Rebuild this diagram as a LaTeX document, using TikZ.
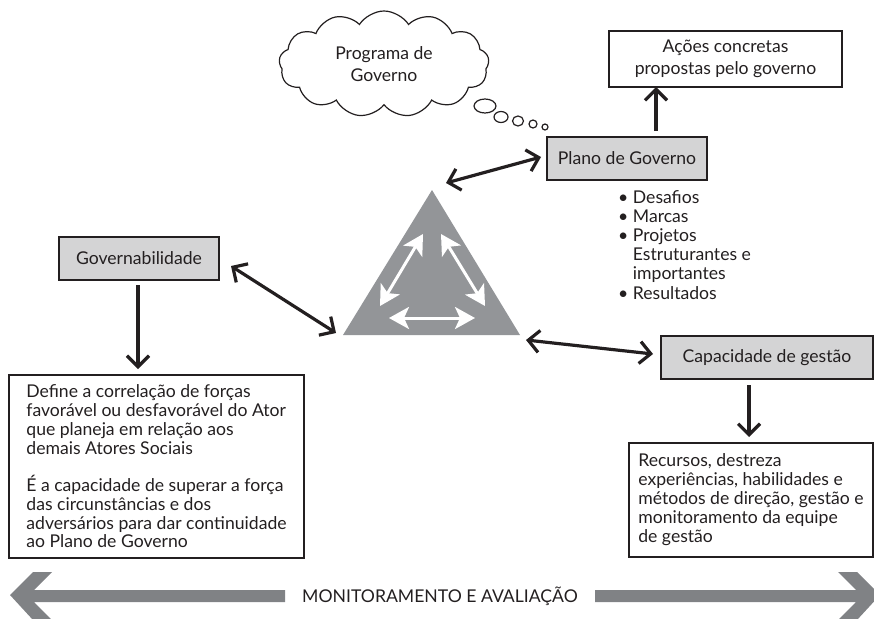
\documentclass[tikz,border=0pt]{standalone}
\usepackage{fontspec}
\setmainfont{Lato}
\usetikzlibrary{arrows.meta,shapes.symbols}
\definecolor{ink}{HTML}{231F20}
\definecolor{boxgray}{HTML}{D4D4D5}
\definecolor{trigray}{HTML}{939598}
\definecolor{bandgray}{HTML}{808285}
\tikzset{
  basefont/.style={font=\fontsize{17.6}{19}\selectfont, text=ink},
  plainbox/.style={basefont, draw=ink, line width=1.3pt, inner sep=0pt},
  graybox/.style={plainbox, fill=boxgray},
  barb/.tip={Straight Barb[length=11pt,width=22pt,line width=3.2pt]},
  blk/.style={draw=ink, line width=3.2pt, -barb},
  dbl/.style={draw=ink, line width=3.2pt, barb-barb},
  wht/.style={draw=white, line width=3pt, {Stealth[length=20pt,width=22pt,inset=5pt]}-{Stealth[length=20pt,width=22pt,inset=5pt]}},
}
\begin{document}
\begin{tikzpicture}[x=1pt,y=-1pt]
\useasboundingbox (0,0) rectangle (874,618);

% cloud and thought bubbles
\node[basefont, cloud, cloud puffs=13, cloud puff arc=115, aspect=2.0, draw=ink, line width=1.2pt,
      minimum width=210pt, minimum height=106pt, align=center, font=\fontsize{17.6}{22}\selectfont]
      (cloud) at (384,64) {Programa de\\Governo};
\draw[ink, line width=1.2pt] (485,106) ellipse [x radius=11pt, y radius=7pt];
\draw[ink, line width=1.2pt] (501,117) ellipse [x radius=7pt, y radius=5.5pt];
\draw[ink, line width=1.2pt] (518,121) ellipse [x radius=5.5pt, y radius=5pt];
\draw[ink, line width=1.2pt] (533,124) ellipse [x radius=4pt, y radius=4pt];
\draw[ink, line width=1.2pt] (545,127) ellipse [x radius=3pt, y radius=3pt];

% boxes
\node[plainbox, minimum width=233pt, minimum height=56pt, align=center, font=\fontsize{17.6}{22}\selectfont]
      (acoes) at (725.5,59) {Ações concretas\\propostas pelo governo};
\node[graybox, minimum width=160pt, minimum height=43pt] (plano) at (627,158.5) {Plano de Governo};
\node[graybox, minimum width=160pt, minimum height=43pt] (gov) at (139,258.5) {Governabilidade};
\node[graybox, minimum width=212pt, minimum height=43pt] (cap) at (767,357.5) {Capacidade de gestão};
\node[plainbox, minimum width=295pt, minimum height=183pt, align=left,
      font=\fontsize{17.6}{18.7}\selectfont]
      (define) at (156.5,466.5) {Define a correlação de forças\\favorável ou desfavorável do Ator\\que planeja em relação aos\\demais Atores Sociais\\[19pt]É a capacidade de superar a força\\das circunstâncias e dos\\adversários para dar continuidade\\ao Plano de Governo};
\node[plainbox, minimum width=244pt, minimum height=114pt, align=left]
      (recursos) at (751,500) {Recursos, destreza\\experiências, habilidades e\\métodos de direção, gestão e\\monitoramento da equipe\\de gestão};

% bullet list
\node[basefont, anchor=north west, align=left, inner sep=0pt, font=\fontsize{17.6}{19.2}\selectfont]
      (lista) at (618,190) {\textbullet\ Desafios\\\textbullet\ Marcas\\\textbullet\ Projetos\\\hphantom{\textbullet\ }Estruturantes e\\\hphantom{\textbullet\ }importantes\\\textbullet\ Resultados};

% triangle with inner arrows
\fill[trigray] (432,190) -- (520,335) -- (343,335) -- cycle;
\coordinate (wl1) at (423,234); \coordinate (wl2) at (380,306);
\coordinate (wr1) at (441,234); \coordinate (wr2) at (485,306);
\coordinate (wb1) at (389,318); \coordinate (wb2) at (475,318);
\draw[wht] (wl1) -- (wl2);
\draw[wht] (wr1) -- (wr2);
\draw[wht] (wb1) -- (wb2);

% connectors
\coordinate (tp) at (446,183);
\coordinate (pl) at (541,157);
\draw[dbl] (tp) -- (pl);
\coordinate (g1) at (231,266);
\coordinate (g2) at (336,333);
\draw[dbl] (g1) -- (g2);
\coordinate (c1) at (526,340);
\coordinate (c2) at (653,354);
\draw[dbl] (c1) -- (c2);
\coordinate (u1) at (656,131);
\coordinate (u2) at (656,87);
\draw[blk] (u1) -- (u2);
\coordinate (d1) at (138,285);
\coordinate (d2) at (138,369);
\draw[blk] (d1) -- (d2);
\coordinate (e1) at (749,385);
\coordinate (e2) at (749,437);
\draw[blk] (e1) -- (e2);

% monitoring band
\fill[bandgray] (10,595) -- (33,572) -- (52,572) -- (34,590) -- (285,590) -- (285,602) -- (34,602) -- (52,620) -- (33,620) -- cycle;
\fill[bandgray] (880,595) -- (857,572) -- (838,572) -- (856,590) -- (595,590) -- (595,602) -- (856,602) -- (838,620) -- (857,620) -- cycle;
\node[basefont, inner sep=0pt] (monit) at (440,596) {MONITORAMENTO E AVALIAÇÃO};
\end{tikzpicture}
\end{document}
